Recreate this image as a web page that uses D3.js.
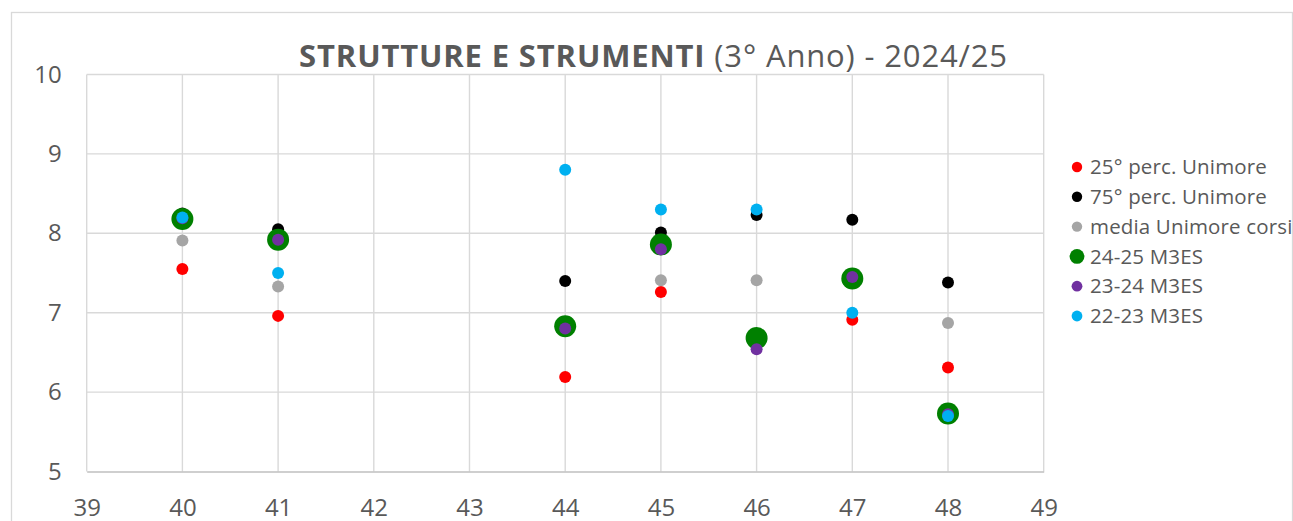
<!DOCTYPE html>
<html>
<head>
<meta charset="utf-8">
<script src="https://cdn.jsdelivr.net/npm/d3@7"></script>
<style>
  html, body { margin: 0; padding: 0; background: #ffffff; }
  svg { display: block; font-family: "Open Sans", sans-serif; }
</style>
</head>
<body>
<svg id="chart" width="1293" height="521"></svg>
<script>
// Course numbers on the x axis
const courses = [40, 41, 44, 45, 46, 47, 48];

// Scores per course, one array per series
const p25Unimore   = [7.55, 6.96, 6.19, 7.26, 6.62, 6.91, 6.31];
const p75Unimore   = [8.25, 8.05, 7.40, 8.01, 8.23, 8.17, 7.38];
const mediaUnimore = [7.91, 7.33, 6.88, 7.41, 7.41, 7.43, 6.87];
const m3es2425     = [8.18, 7.92, 6.83, 7.86, 6.68, 7.43, 5.73];
const m3es2324     = [8.19, 7.92, 6.80, 7.80, 6.54, 7.45, 5.72];
const m3es2223     = [8.20, 7.50, 8.80, 8.30, 8.30, 7.00, 5.70];

const seriesNames = ["25° perc. Unimore", "75° perc. Unimore", "media Unimore corsi",
                     "24-25 M3ES", "23-24 M3ES", "22-23 M3ES"];

const xTicks = [39, 40, 41, 42, 43, 44, 45, 46, 47, 48, 49];
const yTicks = [5, 6, 7, 8, 9, 10];

const titleBold = "STRUTTURE E STRUMENTI";
const titleRest = " (3° Anno) - 2024/25";

const series = [
  { name: seriesNames[0], values: p25Unimore,   color: "#FF0000", r: 6,  lr: 5.2 },
  { name: seriesNames[1], values: p75Unimore,   color: "#000000", r: 6,  lr: 5.2 },
  { name: seriesNames[2], values: mediaUnimore, color: "#A5A5A5", r: 6,  lr: 5.2 },
  { name: seriesNames[3], values: m3es2425,     color: "#008000", r: 11, lr: 7.4 },
  { name: seriesNames[4], values: m3es2324,     color: "#7030A0", r: 6,  lr: 5.4 },
  { name: seriesNames[5], values: m3es2223,     color: "#00B0F0", r: 6,  lr: 5.4 }
];

const svg = d3.select("#chart");
const textColor = "#595959";

// chart frame
svg.append("rect")
  .attr("x", 11.5).attr("y", 12.5)
  .attr("width", 1281).attr("height", 520)
  .attr("fill", "#ffffff")
  .attr("stroke", "#D9D9D9").attr("stroke-width", 1.3);

const x = d3.scaleLinear().domain([39, 49]).range([86.7, 1043.7]);
const y = d3.scaleLinear().domain([5, 10]).range([471.5, 74.5]);

// gridlines
const grid = svg.append("g");
grid.selectAll("line.v").data(xTicks).join("line")
  .attr("class", "v")
  .attr("x1", d => x(d)).attr("x2", d => x(d))
  .attr("y1", y(10)).attr("y2", y(5))
  .attr("stroke", "#D9D9D9").attr("stroke-width", 1.4);
grid.selectAll("line.h").data(yTicks.filter(d => d !== 5)).join("line")
  .attr("class", "h")
  .attr("x1", x(39)).attr("x2", x(49))
  .attr("y1", d => y(d)).attr("y2", d => y(d))
  .attr("stroke", "#D9D9D9").attr("stroke-width", 1.4);

// x axis
const xAxis = svg.append("g")
  .attr("transform", `translate(0,${y(5)})`)
  .call(d3.axisBottom(x).tickValues(xTicks).tickFormat(d3.format("d")).tickSize(0).tickPadding(27.5));
xAxis.select(".domain").attr("stroke", "#BFBFBF").attr("stroke-width", 1.4);
xAxis.selectAll("text").attr("fill", textColor).attr("font-size", 24)
  .attr("font-family", "Open Sans, sans-serif");

// y axis
const yAxis = svg.append("g")
  .attr("transform", `translate(${x(39)},0)`)
  .call(d3.axisLeft(y).tickValues(yTicks).tickFormat(d3.format("d")).tickSize(0).tickPadding(25));
yAxis.select(".domain").remove();
yAxis.selectAll("text").attr("fill", textColor).attr("font-size", 24)
  .attr("font-family", "Open Sans, sans-serif");

// markers
const marks = svg.append("g");
series.forEach(s => {
  marks.append("g").selectAll("circle")
    .data(courses.map((c, i) => ({ c, v: s.values[i] })))
    .join("circle")
    .attr("cx", d => x(d.c))
    .attr("cy", d => y(d.v))
    .attr("r", s.r)
    .attr("fill", s.color);
});

// title
const title = svg.append("text")
  .attr("x", 653.5).attr("y", 67)
  .attr("text-anchor", "middle")
  .attr("fill", textColor)
  .attr("font-size", 31)
  .attr("letter-spacing", 0.85);
title.append("tspan").attr("font-weight", "bold").text(titleBold);
title.append("tspan").text(titleRest);

// legend
const legend = svg.append("g");
const rows = legend.selectAll("g").data(series).join("g")
  .attr("transform", (d, i) => `translate(1077,${167 + i * 29.8})`);
rows.append("circle").attr("r", d => d.lr).attr("fill", d => d.color);
rows.append("text")
  .attr("x", 13).attr("y", 7.2)
  .attr("fill", textColor)
  .attr("font-size", 20.5)
  .attr("letter-spacing", 0.15)
  .text(d => d.name);
</script>
</body>
</html>
